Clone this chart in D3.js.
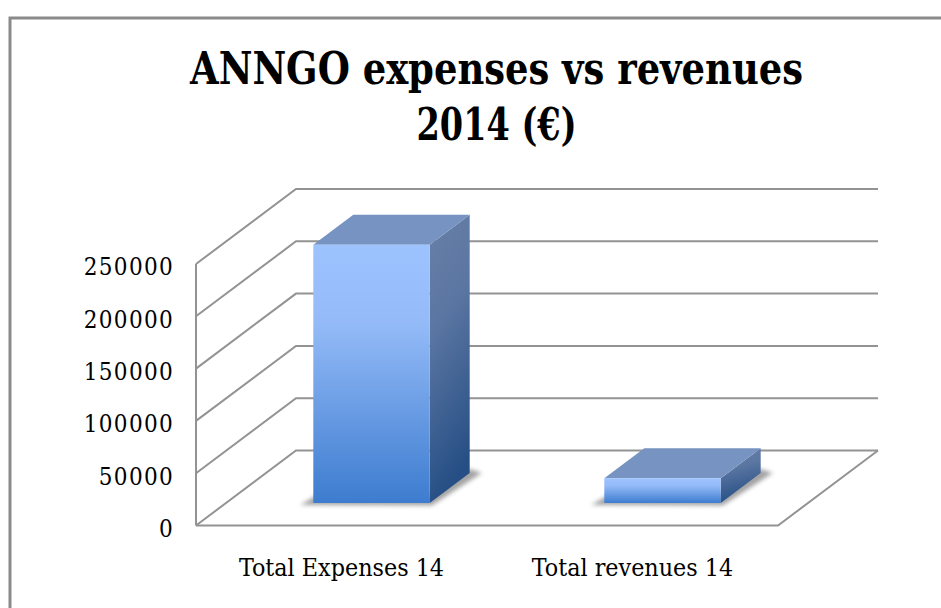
<!DOCTYPE html>
<html>
<head>
    <meta charset="utf-8">
    <script type="text/javascript" src="https://d3js.org/d3.v7.min.js"></script>
    <style>
        html, body { margin: 0; padding: 0; background: #fff; }
        svg { display: block; }
    </style>
</head>
<body>
    <div id="chart"></div>
    <script type="text/javascript">
        // data
        const categories = ["Total Expenses 14", "Total revenues 14"];
        const values = [247000, 23700];
        const yTicks = [0, 50000, 100000, 150000, 200000, 250000];
        const titleLines = ["ANNGO expenses vs revenues", "2014 (€)"];

        // layout constants
        const width = 941, height = 608;
        const serif = "'DejaVu Serif Condensed', 'DejaVu Serif', serif";
        const gridColor = "#939393";
        const titleWidths = [613, 160]; // squeezed to the width of the original face
        const depthX = 100, depthY = -75; // shift from front of the floor to the back wall
        const barFront = 0.3, barBack = 0.7; // where a bar sits in that depth

        const svg = d3.select("#chart").append("svg")
            .attr("width", width)
            .attr("height", height);

        const yScale = d3.scaleLinear().domain([0, 250000]).range([525.5, 264]);
        const xScale = d3.scaleBand().domain(categories).range([196, 778])
            .paddingInner(0.6).paddingOuter(0.3);

        // point in 3d: x on the front plane, value height, z depth 0-1
        const project = (x, v, z) => [x + depthX * z, yScale(v) + depthY * z];
        const poly = pts => "M" + pts.map(p => p.join(",")).join("L") + "Z";

        // gradients
        const defs = svg.append("defs");
        const addGradient = (id, stops, x2, y2) => {
            const g = defs.append("linearGradient").attr("id", id)
                .attr("x1", 0).attr("y1", 0).attr("x2", x2).attr("y2", y2);
            stops.forEach(s => g.append("stop").attr("offset", s[0]).attr("stop-color", s[1]));
        };
        addGradient("frontFill", [[0, "#9dc3ff"], [0.3, "#94bbf8"], [1, "#3d7ccf"]], 0, 1);
        addGradient("sideFill", [[0, "#6880a8"], [0.4, "#5b76a2"], [1, "#264f85"]], 0.2, 1);
        defs.append("filter").attr("id", "soft")
            .attr("x", "-20%").attr("y", "-20%").attr("width", "140%").attr("height", "140%")
            .append("feGaussianBlur").attr("stdDeviation", 2);

        // outer frame, it runs off the right edge
        svg.append("rect")
            .attr("x", 10).attr("y", 18)
            .attr("width", width + 20).attr("height", height + 20)
            .attr("fill", "none").attr("stroke", "#8a8a8a").attr("stroke-width", 3);

        // title
        svg.append("g").selectAll("text")
            .data(titleLines)
            .enter()
            .append("text")
            .attr("x", 496.5)
            .attr("y", (d, i) => 84 + i * 56)
            .attr("text-anchor", "middle")
            .attr("textLength", (d, i) => titleWidths[i])
            .attr("lengthAdjust", "spacingAndGlyphs")
            .attr("font-family", serif)
            .attr("font-weight", "bold")
            .attr("font-size", 45)
            .attr("fill", "#000")
            .text(d => d);

        // walls and floor lines
        const [x0, x1] = xScale.range();
        const grid = svg.append("g").attr("fill", "none")
            .attr("stroke", gridColor).attr("stroke-width", 2);
        grid.selectAll("path")
            .data(yTicks)
            .enter()
            .append("path")
            .attr("d", d => "M" + [project(x0, d, 0), project(x0, d, 1), project(x1, d, 1)]
                .map(p => p.join(",")).join("L"));
        grid.append("path")
            .attr("d", "M" + [project(x0, 0, 0), project(x1, 0, 0), project(x1, 0, 1)]
                .map(p => p.join(",")).join("L"));
        grid.append("path")
            .attr("d", "M" + [project(x0, 250000, 0), project(x0, 0, 0)].map(p => p.join(",")).join("L"));

        // value axis labels
        const yAxis = svg.append("g")
            .attr("transform", `translate(${x0 - 22},0)`)
            .call(d3.axisLeft(yScale).tickValues(yTicks).tickSize(0).tickPadding(0).tickFormat(d3.format("d")));
        yAxis.select(".domain").remove();
        yAxis.selectAll("text")
            .attr("dy", "0.45em")
            .attr("font-family", serif)
            .attr("font-size", 24)
            .attr("letter-spacing", 1.3)
            .attr("fill", "#000");

        // category labels
        svg.append("g").selectAll("text")
            .data(categories)
            .enter()
            .append("text")
            .attr("x", d => xScale(d) + xScale.bandwidth() / 2)
            .attr("y", 576)
            .attr("text-anchor", "middle")
            .attr("font-family", serif)
            .attr("font-size", 24.8)
            .attr("fill", "#000")
            .text(d => d);

        // bars
        const bars = svg.append("g").selectAll("g")
            .data(categories.map((c, i) => ({ name: c, value: values[i] })))
            .enter()
            .append("g");

        // floor shadow
        bars.append("path")
            .attr("d", d => {
                const l = xScale(d.name), r = l + xScale.bandwidth();
                const a = project(l, 0, barFront), b = project(r, 0, barFront), c = project(r, 0, barBack);
                return poly([[a[0] - 13, a[1] + 2], [a[0] + 4, a[1] - 8], [b[0], b[1] - 8],
                    [c[0], c[1] - 4], [c[0] + 12, c[1]], [b[0] + 2, b[1] + 2.5]]);
            })
            .attr("fill", "#666")
            .attr("opacity", 0.6)
            .attr("filter", "url(#soft)");

        bars.append("path")
            .attr("d", d => {
                const l = xScale(d.name), r = l + xScale.bandwidth();
                return poly([project(r, 0, barFront), project(r, d.value, barFront),
                    project(r, d.value, barBack), project(r, 0, barBack)]);
            })
            .attr("fill", "url(#sideFill)");

        bars.append("path")
            .attr("d", d => {
                const l = xScale(d.name), r = l + xScale.bandwidth();
                return poly([project(l, d.value, barFront), project(r, d.value, barFront),
                    project(r, d.value, barBack), project(l, d.value, barBack)]);
            })
            .attr("fill", "#7693c2");

        bars.append("path")
            .attr("d", d => {
                const l = xScale(d.name), r = l + xScale.bandwidth();
                return poly([project(l, 0, barFront), project(r, 0, barFront),
                    project(r, d.value, barFront), project(l, d.value, barFront)]);
            })
            .attr("fill", "url(#frontFill)");
    </script>
</body>
</html>
